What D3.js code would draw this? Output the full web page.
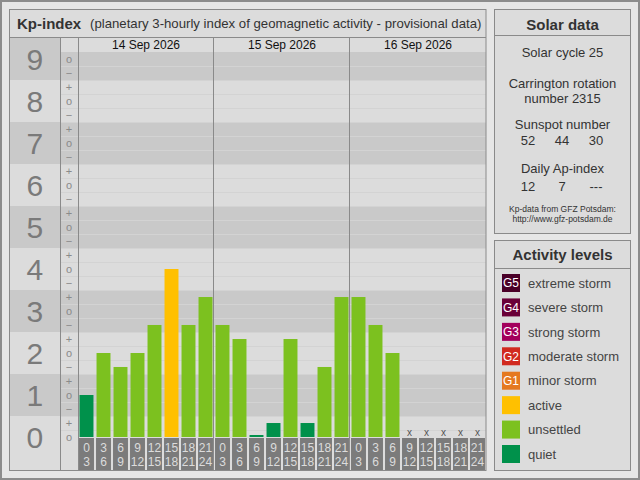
<!DOCTYPE html>
<html><head><meta charset="utf-8">
<script src="https://cdn.jsdelivr.net/npm/d3@7"></script>
<style>
html,body{margin:0;padding:0;background:#e6e6e6;}
svg{display:block;font-family:"Liberation Sans",Arial,sans-serif;}
</style></head><body>
<svg id="c" width="640" height="480"></svg>
<script>
// ---- data ----
const days = ["14 Sep 2026", "15 Sep 2026", "16 Sep 2026"];
const slotStarts = [0, 3, 6, 9, 12, 15, 18, 21];
const slotEnds = [3, 6, 9, 12, 15, 18, 21, 24];
// Kp values per 3-hour slot (thirds: 1.667 = 2-, 2.333 = 2+ ...), null = no data yet
const kpDay1 = [1, 2, 1.667, 2, 2.667, 4, 2.667, 3.333];
const kpDay2 = [2.667, 2.333, 0, 0.333, 2.333, 0.333, 1.667, 3.333];
const kpDay3 = [3.333, 2.667, 2, null, null, null, null, null];
const kpLevels = [0, 1, 2, 3, 4, 5, 6, 7, 8, 9];
const levelCodes = ["G5", "G4", "G3", "G2", "G1", "", "", ""];
const levelNames = ["extreme storm", "severe storm", "strong storm", "moderate storm", "minor storm", "active", "unsettled", "quiet"];
const levelColors = ["#4a0028", "#6a0038", "#a3005c", "#d12a1f", "#e5791f", "#ffc000", "#7cc11f", "#00914b"];
const solarCycle = 25;
const carrington = 2315;
const sunspots = ["52", "44", "30"];
const apIndex = ["12", "7", "---"];

const kp = [...kpDay1, ...kpDay2, ...kpDay3];
function colorFor(v) {
  const r = Math.round(v);
  if (r <= 1) return levelColors[7];
  if (r <= 3) return levelColors[6];
  if (r === 4) return levelColors[5];
  return levelColors[9 - r];
}

const svg = d3.select("#c");
const F = "'Liberation Sans',Arial,sans-serif";

// outer frame
svg.append("rect").attr("x", 1).attr("y", 1).attr("width", 638).attr("height", 478)
  .attr("fill", "#e6e6e6").attr("stroke", "#8c8c8c").attr("stroke-width", 2);

// ---- main panel ----
const P = {l: 9.5, t: 9.5, r: 486, b: 470.5};
const colNum = 60, colSub = 78;
svg.append("rect").attr("x", P.l).attr("y", P.t).attr("width", P.r - P.l).attr("height", P.b - P.t)
  .attr("fill", "#dcdcdc");

const y = d3.scaleLinear().domain([0, 9]).range([437, 59]);
const slots = d3.range(24);
const x = d3.scaleBand().domain(slots).range([colSub, P.r]).paddingInner(0.18).paddingOuter(0.09);
const step = x.step();
const topChart = 37;

// bands
const dark = "#c9c9c9", light = "#dcdcdc";
kpLevels.forEach(k => {
  const hi = Math.min(k + 0.5, 9 + 1/6), lo = Math.max(k - 0.5, -1/6);
  const fill = k % 2 === 1 ? dark : light;
  svg.append("rect").attr("x", colNum).attr("y", y(hi)).attr("width", P.r - colNum)
    .attr("height", y(lo) - y(hi)).attr("fill", fill);
  const nt = k === 9 ? topChart : y(hi);
  const nb = k === 0 ? P.b : y(lo);
  svg.append("rect").attr("x", P.l).attr("y", nt).attr("width", colNum - P.l)
    .attr("height", nb - nt).attr("fill", fill);
});
// row separator lines
const rowCenters = [];
kpLevels.forEach(k => { [-1/3, 0, 1/3].forEach(d => { const v = k + d; if (v >= 0 && v <= 9) rowCenters.push(v); }); });
const bounds = rowCenters.map(v => v + 1/6).filter(v => v < 9.1);
svg.append("g").selectAll("line").data(bounds).join("line")
  .attr("x1", colNum).attr("x2", P.r).attr("y1", d => Math.round(y(d)) + 0.5).attr("y2", d => Math.round(y(d)) + 0.5)
  .attr("stroke", "#d3d3d3").attr("stroke-width", 1);

// sub-row marks
const marks = {"-1": "\u2212", "0": "o", "1": "+"};
svg.append("g").selectAll("text").data(rowCenters).join("text")
  .attr("x", (colNum + colSub) / 2).attr("y", d => y(d)).attr("dy", "0.35em")
  .attr("text-anchor", "middle").attr("font-size", 11).attr("fill", "#8a8a8a").attr("font-family", F)
  .text(d => marks[Math.round((d - Math.round(d)) * 3)]);

// Kp numbers
svg.append("g").selectAll("text").data(kpLevels).join("text")
  .attr("x", (P.l + colNum) / 2).attr("y", d => y(d)).attr("dy", "0.36em")
  .attr("text-anchor", "middle").attr("font-size", 30).attr("fill", "#7a7a7a").attr("font-family", F)
  .text(d => d);

// bars
svg.append("g").selectAll("rect").data(slots.filter(i => kp[i] !== null)).join("rect")
  .attr("x", i => x(i)).attr("width", x.bandwidth())
  .attr("y", i => Math.min(y(kp[i]), y(0) - 2)).attr("height", i => Math.max(y(0) - y(kp[i]), 2))
  .attr("fill", i => colorFor(kp[i]));

// missing markers
svg.append("g").selectAll("text").data(slots.filter(i => kp[i] === null)).join("text")
  .attr("x", i => x(i) + x.bandwidth() / 2).attr("y", y(0) - 1)
  .attr("text-anchor", "middle").attr("font-size", 10).attr("fill", "#555").attr("font-family", F)
  .text("x");

// slot label boxes
const lab = svg.append("g").selectAll("g").data(slots).join("g");
lab.append("rect").attr("x", i => x(i) - 0.5).attr("width", x.bandwidth() + 1)
  .attr("y", y(0) + 1).attr("height", P.b - y(0) - 1).attr("fill", "#7b7b7b");
lab.append("text").attr("x", i => x(i) + x.bandwidth() / 2).attr("y", y(0) + 15)
  .attr("text-anchor", "middle").attr("font-size", 12).attr("fill", "#dcdcdc").attr("font-family", F)
  .text(i => slotStarts[i % 8]);
lab.append("text").attr("x", i => x(i) + x.bandwidth() / 2).attr("y", y(0) + 29)
  .attr("text-anchor", "middle").attr("font-size", 12).attr("fill", "#dcdcdc").attr("font-family", F)
  .text(i => slotEnds[i % 8]);

// day dividers + date labels
d3.range(1, 3).forEach(d => {
  const xx = Math.round(colSub + step * 8 * d) - 0.5;
  svg.append("line").attr("x1", xx).attr("x2", xx).attr("y1", topChart).attr("y2", P.b)
    .attr("stroke", "#8a8a8a");
});
svg.append("g").selectAll("text").data(days).join("text")
  .attr("x", (d, i) => colSub + step * 8 * (i + 0.5)).attr("y", 49)
  .attr("text-anchor", "middle").attr("font-size", 12).attr("fill", "#111").attr("font-family", F)
  .text(d => d);

// column lines
[colNum, colSub].forEach(cx => {
  svg.append("line").attr("x1", cx + 0.5).attr("x2", cx + 0.5).attr("y1", topChart).attr("y2", P.b)
    .attr("stroke", "#8a8a8a");
});
// title
svg.append("line").attr("x1", P.l).attr("x2", P.r).attr("y1", topChart + 0.5).attr("y2", topChart + 0.5).attr("stroke", "#8a8a8a");
svg.append("text").attr("x", 17).attr("y", 29).attr("font-size", 15).attr("font-weight", "bold")
  .attr("fill", "#333").attr("font-family", F).text("Kp-index");
svg.append("text").attr("x", 90).attr("y", 28).attr("font-size", 13.2)
  .attr("fill", "#333").attr("font-family", F).text("(planetary 3-hourly index of geomagnetic activity - provisional data)");
svg.append("rect").attr("x", P.l).attr("y", P.t).attr("width", P.r - P.l).attr("height", P.b - P.t)
  .attr("fill", "none").attr("stroke", "#8a8a8a");

// ---- solar data panel ----
const S = {l: 494.5, t: 9.5, r: 630.5, b: 233.5};
const cx = (S.l + S.r) / 2;
svg.append("rect").attr("x", S.l).attr("y", S.t).attr("width", S.r - S.l).attr("height", S.b - S.t)
  .attr("fill", "#dcdcdc").attr("stroke", "#8a8a8a");
svg.append("line").attr("x1", S.l).attr("x2", S.r).attr("y1", 35.5).attr("y2", 35.5).attr("stroke", "#8a8a8a");
svg.append("text").attr("x", cx).attr("y", 30).attr("text-anchor", "middle").attr("font-size", 15)
  .attr("font-weight", "bold").attr("fill", "#333").attr("font-family", F).text("Solar data");
const solarLines = [
  ["Solar cycle " + solarCycle, 57],
  ["Carrington rotation", 88],
  ["number " + carrington, 103],
  ["Sunspot number", 129],
  ["Daily Ap-index", 173]
];
svg.append("g").selectAll("text").data(solarLines).join("text")
  .attr("x", cx).attr("y", d => d[1]).attr("text-anchor", "middle").attr("font-size", 13)
  .attr("fill", "#333").attr("font-family", F).text(d => d[0]);
const colX = [528, 562, 596];
svg.append("g").selectAll("text").data(sunspots).join("text")
  .attr("x", (d, i) => colX[i]).attr("y", 145).attr("text-anchor", "middle").attr("font-size", 13)
  .attr("fill", "#333").attr("font-family", F).text(d => d);
svg.append("g").selectAll("text").data(apIndex).join("text")
  .attr("x", (d, i) => colX[i]).attr("y", 191).attr("text-anchor", "middle").attr("font-size", 13)
  .attr("fill", "#333").attr("font-family", F).text(d => d);
svg.append("text").attr("x", cx).attr("y", 212).attr("text-anchor", "middle").attr("font-size", 8.5)
  .attr("fill", "#333").attr("font-family", F).text("Kp-data from  GFZ Potsdam:");
svg.append("text").attr("x", cx).attr("y", 222).attr("text-anchor", "middle").attr("font-size", 8.5)
  .attr("fill", "#333").attr("font-family", F).text("http://www.gfz-potsdam.de");

// ---- activity levels panel ----
const A = {l: 494.5, t: 240.5, r: 630.5, b: 470.5};
svg.append("rect").attr("x", A.l).attr("y", A.t).attr("width", A.r - A.l).attr("height", A.b - A.t)
  .attr("fill", "#dcdcdc").attr("stroke", "#8a8a8a");
svg.append("line").attr("x1", A.l).attr("x2", A.r).attr("y1", 268.5).attr("y2", 268.5).attr("stroke", "#8a8a8a");
svg.append("text").attr("x", (A.l + A.r) / 2).attr("y", 260).attr("text-anchor", "middle").attr("font-size", 15)
  .attr("font-weight", "bold").attr("fill", "#333").attr("font-family", F).text("Activity levels");
const ly = d3.scalePoint().domain(d3.range(levelNames.length)).range([283, 454]);
const lg = svg.append("g").selectAll("g").data(d3.range(levelNames.length)).join("g");
lg.append("rect").attr("x", 502).attr("y", i => ly(i) - 9).attr("width", 18).attr("height", 18)
  .attr("fill", i => levelColors[i]);
lg.append("text").attr("x", 511).attr("y", i => ly(i)).attr("dy", "0.36em").attr("text-anchor", "middle")
  .attr("font-size", 12).attr("fill", "#fff").attr("font-family", F).text(i => levelCodes[i]);
lg.append("text").attr("x", 528).attr("y", i => ly(i)).attr("dy", "0.36em")
  .attr("font-size", 13).attr("fill", "#444").attr("font-family", F).text(i => levelNames[i]);
</script>
</body></html>
